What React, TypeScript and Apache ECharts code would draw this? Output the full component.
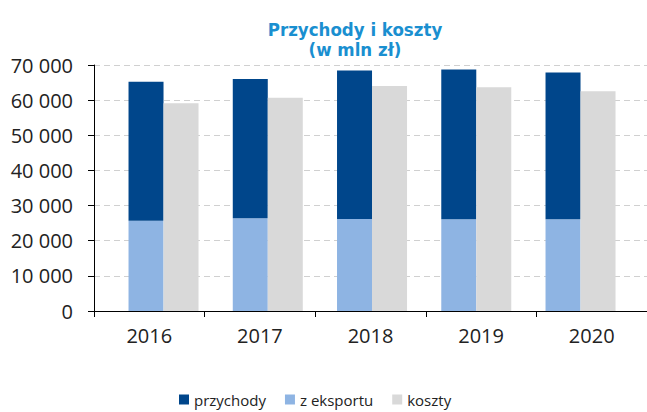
import React, { useEffect, useRef } from "react";
import * as echarts from "echarts";

const years = ["2016", "2017", "2018", "2019", "2020"];
const przychody = [65200, 66000, 68400, 68700, 67900];
const eksport = [25700, 26400, 26200, 26100, 26100];
const koszty = [59100, 60700, 64000, 63700, 62500];
const yTicks = [0, 10000, 20000, 30000, 40000, 50000, 60000, 70000];

const DARK = "#00468b";
const LIGHT = "#8eb4e3";
const GREY = "#d9d9d9";
const FONT = "'Open Sans', 'Noto Sans', sans-serif";
const TITLE_FONT = "'DejaVu Sans Condensed', 'Liberation Sans Narrow', 'Roboto Condensed', 'DejaVu Sans', sans-serif";

const fmt = (v: number) => String(v).replace(/\B(?=(\d{3})+(?!\d))/g, " ");

export default function App() {
  const ref = useRef<HTMLDivElement>(null);
  useEffect(() => {
    if (!ref.current) return;
    const chart = echarts.init(ref.current, null, { renderer: "svg" });
    const yMin = yTicks[0];
    const yMax = yTicks[yTicks.length - 1];
    const rest = przychody.map((v, i) => v - eksport[i]);
    chart.setOption({
      animation: false,
      graphic: [
        {
          type: "text",
          x: 355,
          y: 29,
          style: {
            text: "Przychody i koszty",
            fill: "#1a8fd0",
            font: `bold 18.5px ${TITLE_FONT}`,
            textAlign: "center",
            textVerticalAlign: "middle",
          },
        },
        {
          type: "text",
          x: 355,
          y: 49,
          style: {
            text: "(w mln zł)",
            fill: "#1a8fd0",
            font: `bold 18.5px ${TITLE_FONT}`,
            textAlign: "center",
            textVerticalAlign: "middle",
          },
        },
      ],
      legend: {
        left: 174,
        top: 387,
        padding: 5,
        itemWidth: 10,
        itemHeight: 10,
        itemGap: 19,
        icon: "rect",
        data: ["przychody", "z eksportu", "koszty"],
        textStyle: { fontFamily: FONT, fontSize: 15, color: "#222" },
      },
      grid: [
        { left: 94, top: 65, width: 555, bottom: 101, containLabel: false },
        { left: 111.4, top: 65, width: 521.25, bottom: 101, containLabel: false },
      ],
      xAxis: [
        {
          type: "category",
          gridIndex: 0,
          data: years,
          axisLine: { lineStyle: { color: "#000", width: 1 } },
          axisTick: { show: true, length: 6, lineStyle: { color: "#000" } },
          axisLabel: { fontFamily: FONT, fontSize: 20, color: "#222", margin: 14 },
        },
        {
          type: "category",
          gridIndex: 1,
          data: years,
          show: false,
        },
      ],
      yAxis: [
        {
          type: "value",
          gridIndex: 0,
          min: yMin,
          max: yMax,
          interval: 10000,
          axisLine: { show: true, lineStyle: { color: "#000", width: 1 } },
          axisTick: { show: true, length: 6, lineStyle: { color: "#000" } },
          axisLabel: {
            fontFamily: FONT,
            fontSize: 20,
            color: "#222",
            margin: 21,
            formatter: (v: number) => fmt(v),
          },
          splitLine: { show: true, lineStyle: { color: "#d0d0d0", type: [6, 4], width: 1 } },
        },
        {
          type: "value",
          gridIndex: 1,
          min: yMin,
          max: yMax,
          interval: 10000,
          show: false,
          splitLine: { show: false },
        },
      ],
      series: [
        {
          name: "z eksportu",
          type: "bar",
          xAxisIndex: 1,
          yAxisIndex: 1,
          stack: "p",
          data: eksport,
          barWidth: 35,
          barGap: "0%",
          itemStyle: { color: LIGHT },
        },
        {
          name: "przychody",
          type: "bar",
          xAxisIndex: 1,
          yAxisIndex: 1,
          stack: "p",
          data: rest,
          barWidth: 35,
          barGap: "0%",
          itemStyle: { color: DARK },
        },
        {
          name: "koszty",
          type: "bar",
          xAxisIndex: 1,
          yAxisIndex: 1,
          data: koszty,
          barWidth: 35,
          barGap: "0%",
          itemStyle: { color: GREY },
        },
      ],
    });
    return () => chart.dispose();
  }, []);
  return <div ref={ref} style={{ width: 647, height: 412, position: "absolute", left: 0, top: 0 }} />;
}
